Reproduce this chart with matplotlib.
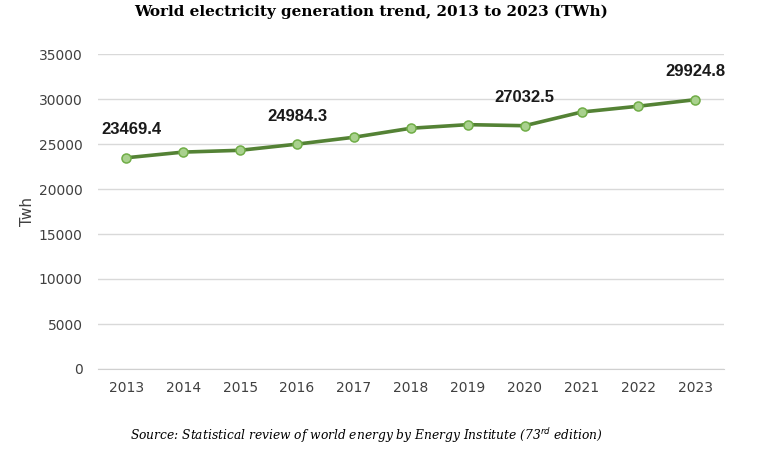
import numpy as np
import matplotlib.pyplot as plt

years = ["2013", "2014", "2015", "2016", "2017", "2018", "2019", "2020", "2021", "2022", "2023"]
twh = [23469.4, 24100, 24300, 24984.3, 25750, 26750, 27150, 27032.5, 28550, 29200, 29924.8]
labelled = {0: 23469.4, 3: 24984.3, 7: 27032.5, 10: 29924.8}

fig = plt.figure(figsize=(7.7, 4.5), dpi=100)
ax = fig.add_axes([0.127, 0.18, 0.813, 0.70])

x = np.arange(len(years))
ax.plot(x, twh, color="#548235", lw=2.6, marker="o", ms=6.5,
        markerfacecolor="#A9D18E", markeredgecolor="#70AD47", markeredgewidth=1.1, zorder=3)

# data labels for a few years only
for i, v in labelled.items():
    dx = 4 if i == 0 else 0
    ax.annotate(f"{v:.1f}", (i, v), xytext=(dx, 20), textcoords="offset points",
                ha="center", va="center", fontsize=12, fontweight="bold",
                family="Liberation Sans", color="#1a1a1a")

ax.set_xlim(-0.5, len(years) - 0.5)
ax.set_ylim(0, 35000)
ax.set_yticks(np.arange(0, 35001, 5000))
ax.set_xticks(x)
ax.set_xticklabels(years)
ax.grid(axis="y", color="#D9D9D9", lw=1)
ax.set_axisbelow(True)
for s in ["top", "right", "left"]:
    ax.spines[s].set_visible(False)
ax.spines["bottom"].set_color("#D0D0D0")
ax.tick_params(length=0, labelsize=10, colors="#404040")
ax.tick_params(axis="x", pad=9)
ax.tick_params(axis="y", pad=11)

fig.text(27 / 770, 1 - 212 / 450, "Twh", rotation=90, ha="center", va="center",
         fontsize=11, color="#404040")
fig.text(0.482, 0.974, "World electricity generation trend, 2013 to 2023 (TWh)",
         ha="center", va="center", fontsize=11, fontweight="bold", family="DejaVu Serif")
fig.text(0.476, 0.033, "Source: Statistical review of world energy by Energy Institute (73$^{rd}$ edition)",
         ha="center", va="center", fontsize=8.8, style="italic", family="DejaVu Serif")

fig.savefig("out.png", dpi=100)
